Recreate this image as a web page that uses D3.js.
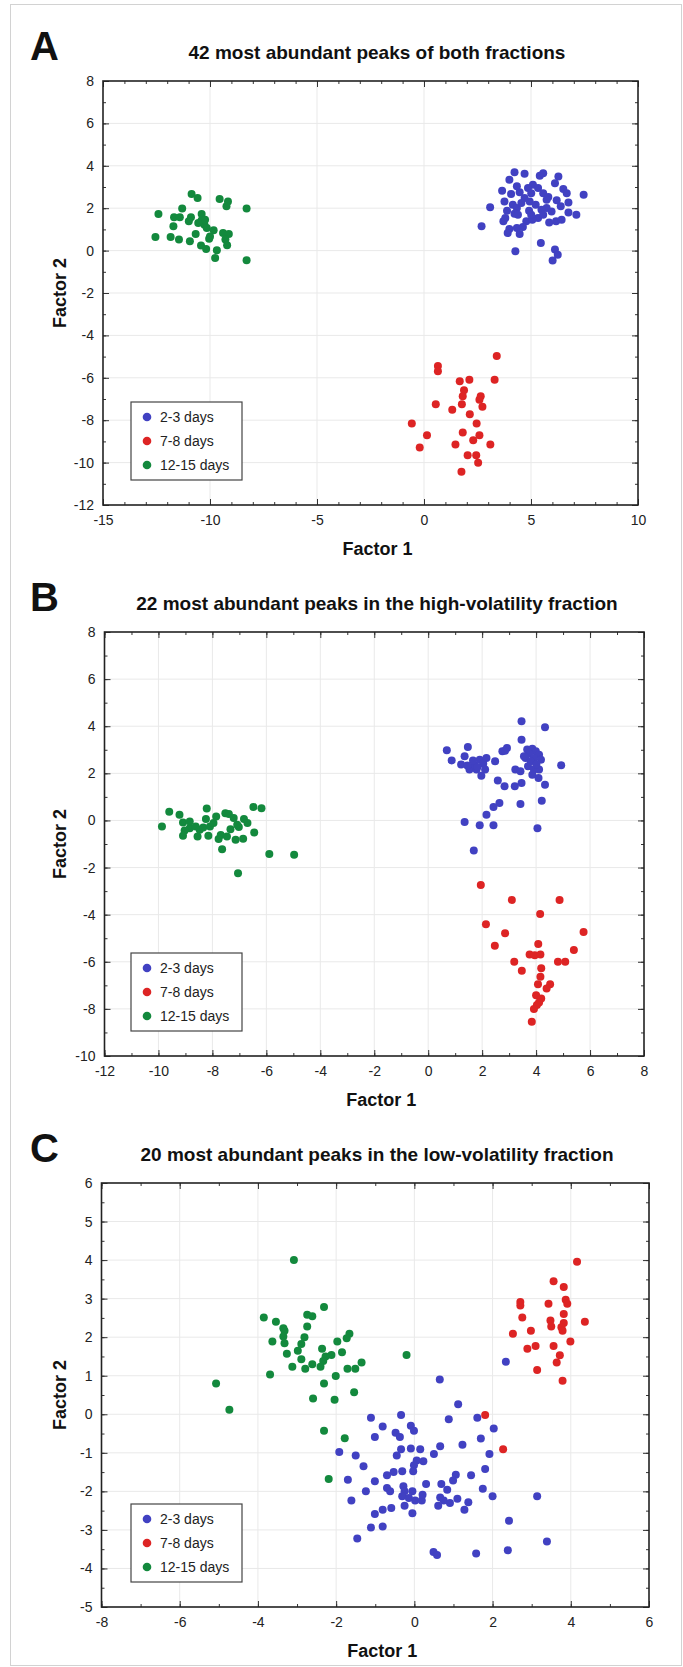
<!DOCTYPE html>
<html>
<head>
<meta charset="utf-8">
<script src="https://cdn.jsdelivr.net/npm/d3@7"></script>
<style>
  body { margin: 0; background: #fff; }
  svg { display: block; font-family: "Liberation Sans", Arial, sans-serif; }
  .tick text { fill: #222; font-size: 14px; }
</style>
</head>
<body>
<div id="chart"></div>
<script>
// series labels + colours
var groups = ["2-3 days", "7-8 days", "12-15 days"];
var colors = ["#4141c2", "#dd2424", "#13893d"];

// panel A: 42 most abundant peaks of both fractions
var aBlue = [[4.23,3.69],[4.70,3.62],[5.41,3.53],[5.57,3.65],[6.28,3.50],[3.99,3.34],[6.12,3.18],[5.09,3.11],
  [5.33,2.95],[4.86,2.95],[6.51,2.90],[3.65,2.82],[4.47,2.75],[6.67,2.71],[7.46,2.64],[4.07,2.67],[5.57,2.71],
  [5.81,2.53],[4.70,2.48],[3.76,2.32],[6.20,2.37],[6.75,2.27],[4.94,2.32],[5.22,2.16],[4.15,2.16],[3.09,2.05],
  [4.34,2.01],[5.73,2.01],[5.49,1.93],[4.91,1.88],[3.88,1.88],[4.23,1.74],[6.75,1.80],[7.12,1.69],[5.96,1.85],
  [5.33,1.54],[4.78,1.38],[3.71,1.38],[5.85,1.33],[6.17,1.38],[2.69,1.15],[3.99,1.02],[4.34,1.07],[4.62,1.11],
  [3.91,0.83],[4.47,0.78],[5.46,0.36],[4.27,-0.03],[6.12,0.05],[6.25,-0.19],[6.01,-0.47],[4.39,1.69],[5.01,2.71],
  [5.73,2.40],[4.55,2.24],[6.39,2.09],[3.80,1.54],[5.06,1.46],[5.57,1.69],[4.34,3.03],[5.01,1.69],[6.43,1.46]];
var aRed = [[3.40,-4.97],[0.65,-5.44],[0.65,-5.69],[1.67,-6.16],[2.12,-6.09],[3.30,-6.09],[1.87,-6.59],[1.81,-6.87],
  [2.65,-6.87],[2.59,-7.03],[1.77,-7.25],[0.55,-7.25],[1.32,-7.51],[2.73,-7.37],[2.14,-7.72],[-0.57,-8.16],
  [2.46,-8.16],[1.81,-8.58],[0.14,-8.71],[2.59,-8.71],[2.30,-8.94],[-0.20,-9.29],[1.47,-9.15],[3.10,-9.15],
  [2.04,-9.65],[2.44,-9.65],[2.53,-10.01],[1.75,-10.43]];
var aGreen = [[-10.86,2.67],[-10.58,2.48],[-9.55,2.43],[-9.16,2.32],[-9.23,2.09],[-8.29,1.98],[-11.30,1.98],
  [-12.41,1.73],[-11.68,1.57],[-11.41,1.57],[-10.89,1.57],[-10.39,1.73],[-10.99,1.38],[-10.39,1.43],[-10.26,1.22],
  [-10.15,1.07],[-11.71,1.15],[-9.83,0.96],[-12.55,0.64],[-11.84,0.64],[-11.45,0.52],[-10.67,0.78],[-10.94,0.44],
  [-10.04,0.56],[-9.39,0.83],[-9.12,0.78],[-9.28,0.52],[-9.20,0.25],[-10.42,0.24],[-10.18,0.08],[-9.68,0.02],
  [-9.76,-0.35],[-8.29,-0.45],[-10.00,0.67],[-10.55,1.30],[-10.23,1.46]];

// panel B: 22 most abundant peaks in the high-volatility fraction
var bBlue = [[3.46,4.21],[4.33,3.96],[3.46,3.43],[0.69,2.98],[1.47,3.12],[0.87,2.55],[1.35,2.72],[1.22,2.37],
  [1.53,2.16],[1.72,2.33],[1.91,2.58],[2.16,2.65],[1.97,1.90],[1.79,2.16],[2.48,2.51],[2.04,2.41],[1.66,2.54],
  [2.75,2.94],[2.92,3.08],[2.85,2.96],[2.58,1.70],[2.83,1.45],[3.21,1.45],[3.23,2.16],[3.42,2.09],[3.46,1.59],
  [3.67,3.01],[3.86,3.04],[3.99,2.94],[3.74,2.84],[4.11,2.79],[3.61,2.65],[3.92,2.65],[3.55,2.72],[4.18,2.58],
  [3.70,2.30],[3.92,2.16],[3.86,1.94],[4.11,2.16],[4.09,1.80],[4.33,1.52],[4.93,2.34],[2.64,0.74],[2.42,0.57],
  [2.16,0.24],[3.42,0.70],[4.21,0.84],[1.35,-0.07],[1.91,-0.20],[2.42,-0.20],[4.05,-0.33],[1.69,-1.28],
  [1.82,2.27],[2.11,2.16],[3.80,2.51],[4.01,2.37],[1.45,2.33]];
var bRed = [[1.95,-2.74],[3.10,-3.38],[4.87,-3.38],[4.15,-3.97],[2.14,-4.41],[2.85,-4.79],[5.76,-4.74],[2.47,-5.32],
  [4.08,-5.25],[5.40,-5.50],[3.76,-5.69],[3.95,-5.72],[4.16,-5.69],[3.19,-6.00],[4.19,-6.28],[4.81,-6.00],
  [5.08,-6.00],[3.47,-6.38],[4.16,-6.64],[4.07,-6.95],[4.52,-6.95],[4.39,-7.13],[4.00,-7.42],[4.19,-7.56],
  [4.03,-7.84],[3.92,-8.01],[3.84,-8.55],[4.11,-7.73]];
var bGreen = [[-9.87,-0.26],[-9.60,0.37],[-9.22,0.24],[-9.09,-0.09],[-8.21,0.51],[-8.24,0.06],[-7.86,0.17],
  [-7.52,0.31],[-7.39,0.27],[-7.21,0.10],[-6.83,0.06],[-6.70,-0.11],[-6.48,0.57],[-6.18,0.52],[-8.84,-0.33],
  [-9.03,-0.43],[-8.62,-0.26],[-8.47,-0.40],[-8.34,-0.30],[-8.09,-0.26],[-9.09,-0.65],[-8.55,-0.68],[-8.15,-0.65],
  [-7.77,-0.79],[-7.69,-0.62],[-7.46,-0.68],[-7.14,-0.82],[-6.86,-0.78],[-7.33,-0.37],[-7.02,-0.28],[-6.45,-0.51],
  [-7.64,-1.22],[-5.89,-1.42],[-4.97,-1.46],[-8.84,-0.04],[-7.96,-0.11],[-7.08,-0.18],[-7.05,-2.24]];

// panel C: 20 most abundant peaks in the low-volatility fraction
var cBlue = [[2.34,1.36],[0.65,0.90],[-1.11,-0.09],[-0.34,-0.02],[1.12,0.26],[0.88,-0.13],[1.61,-0.09],[2.03,-0.37],
  [-0.81,-0.32],[-0.48,-0.48],[-0.37,-0.59],[-0.09,-0.30],[-0.01,-0.43],[-1.01,-0.59],[1.70,-0.63],[-1.92,-0.98],
  [-1.50,-1.07],[-0.34,-0.91],[-0.09,-0.89],[0.15,-0.91],[-0.45,-1.07],[0.50,-1.03],[0.66,-0.83],[1.23,-0.79],
  [1.92,-1.03],[0.06,-1.20],[0.23,-1.22],[-0.01,-1.32],[-1.30,-1.35],[-0.03,-1.48],[-0.31,-1.48],[-0.53,-1.50],
  [-0.70,-1.58],[1.81,-1.42],[1.06,-1.57],[1.45,-1.58],[-1.70,-1.70],[-1.01,-1.74],[0.99,-1.72],[0.69,-1.81],
  [0.30,-1.81],[-0.28,-1.87],[-0.70,-1.91],[-0.62,-2.00],[-0.25,-2.00],[-0.05,-2.00],[1.75,-1.93],[0.84,-1.96],
  [-1.24,-2.00],[-1.61,-2.24],[-0.31,-2.13],[-0.14,-2.17],[0.02,-2.24],[0.19,-2.24],[0.21,-2.09],[0.66,-2.16],
  [0.75,-2.24],[0.61,-2.37],[0.91,-2.30],[1.10,-2.19],[1.38,-2.28],[2.00,-2.13],[3.14,-2.13],[-0.25,-2.37],
  [-0.59,-2.43],[-0.81,-2.48],[-1.01,-2.59],[-0.05,-2.57],[1.28,-2.48],[2.42,-2.76],[-1.11,-2.94],[-0.81,-2.91],
  [-1.46,-3.22],[3.39,-3.30],[0.49,-3.57],[0.58,-3.65],[1.58,-3.61],[2.39,-3.53]];
var cRed = [[4.16,3.96],[3.56,3.45],[3.82,3.30],[2.71,2.91],[2.71,2.82],[3.43,2.87],[3.87,2.97],[3.91,2.87],
  [2.76,2.51],[3.82,2.60],[4.36,2.40],[3.48,2.43],[3.50,2.28],[3.82,2.37],[3.76,2.26],[3.79,2.17],[2.98,2.17],
  [2.52,2.09],[3.99,1.89],[3.10,1.77],[3.56,1.77],[2.89,1.70],[3.72,1.53],[3.64,1.34],[3.14,1.15],[3.79,0.87],
  [1.81,-0.02],[2.27,-0.91]];
var cGreen = [[-3.08,4.00],[-2.31,2.78],[-3.85,2.51],[-3.54,2.40],[-2.74,2.58],[-2.61,2.54],[-3.35,2.23],[-3.32,2.17],
  [-2.74,2.28],[-3.35,2.02],[-3.63,1.89],[-3.32,1.84],[-2.81,2.00],[-2.89,1.82],[-1.66,2.09],[-1.73,1.97],
  [-1.97,1.89],[-3.26,1.57],[-2.98,1.65],[-2.36,1.70],[-2.12,1.54],[-1.85,1.61],[-2.89,1.43],[-2.27,1.50],
  [-2.33,1.38],[-2.61,1.30],[-2.79,1.18],[-2.40,1.23],[-3.12,1.23],[-1.71,1.18],[-1.51,1.18],[-1.35,1.34],
  [-0.20,1.54],[-3.69,1.03],[-2.01,0.99],[-5.07,0.80],[-2.31,0.80],[-1.54,0.57],[-2.59,0.41],[-2.04,0.38],
  [-4.73,0.12],[-2.31,-0.43],[-1.78,-0.62],[-2.19,-1.68]];

// tick labels
var aXTicks = [-15, -10, -5, 0, 5, 10];
var aYTicks = [-12, -10, -8, -6, -4, -2, 0, 2, 4, 6, 8];
var bXTicks = [-12, -10, -8, -6, -4, -2, 0, 2, 4, 6, 8];
var bYTicks = [-10, -8, -6, -4, -2, 0, 2, 4, 6, 8];
var cXTicks = [-8, -6, -4, -2, 0, 2, 4, 6];
var cYTicks = [-5, -4, -3, -2, -1, 0, 1, 2, 3, 4, 5, 6];

var panels = [
  { letter: "A", title: "42 most abundant peaks of both fractions", top: 81, left: 103, right: 638,
    xDom: [-15, 10], yDom: [-12, 8], xTicks: aXTicks, yTicks: aYTicks, xMinor: 1, yMinor: 1,
    series: [aBlue, aRed, aGreen] },
  { letter: "B", title: "22 most abundant peaks in the high-volatility fraction", top: 632, left: 104.5, right: 644,
    xDom: [-12, 8], yDom: [-10, 8], xTicks: bXTicks, yTicks: bYTicks, xMinor: 1, yMinor: 1,
    series: [bBlue, bRed, bGreen] },
  { letter: "C", title: "20 most abundant peaks in the low-volatility fraction", top: 1183, left: 101.5, right: 649,
    xDom: [-8, 6], yDom: [-5, 6], xTicks: cXTicks, yTicks: cYTicks, xMinor: 1, yMinor: 0.5,
    series: [cBlue, cRed, cGreen] }
];

var W = 683, H = 1667, plotH = 424;

var svg = d3.select("#chart").append("svg")
  .attr("width", W).attr("height", H);

// outer grey frame
svg.append("rect")
  .attr("x", 10.5).attr("y", 4.5)
  .attr("width", W - 12).attr("height", H - 6)
  .attr("fill", "none").attr("stroke", "#d2d2d2");

function range(a, b, step) {
  var out = [];
  for (var v = a; v <= b + 1e-9; v += step) out.push(+v.toFixed(4));
  return out;
}

panels.forEach(function(p) {
  var x = d3.scaleLinear().domain(p.xDom).range([p.left, p.right]);
  var y = d3.scaleLinear().domain(p.yDom).range([p.top + plotH, p.top]);
  var g = svg.append("g");
  var bottom = p.top + plotH;

  g.append("text")
    .attr("x", 30).attr("y", p.top - 21)
    .attr("font-size", 40).attr("font-weight", "bold").attr("fill", "#111")
    .text(p.letter);

  g.append("text")
    .attr("x", 377).attr("y", p.top - 22)
    .attr("text-anchor", "middle")
    .attr("font-size", 19).attr("font-weight", "bold").attr("fill", "#111")
    .text(p.title);

  // grid
  g.append("g").selectAll("line")
    .data(p.xTicks.slice(1, -1))
    .enter().append("line")
      .attr("x1", function(d) { return x(d); }).attr("x2", function(d) { return x(d); })
      .attr("y1", p.top).attr("y2", bottom)
      .attr("stroke", "#e9e9e9");
  g.append("g").selectAll("line")
    .data(p.yTicks.slice(1, -1))
    .enter().append("line")
      .attr("y1", function(d) { return y(d); }).attr("y2", function(d) { return y(d); })
      .attr("x1", p.left).attr("x2", p.right)
      .attr("stroke", "#e9e9e9");

  // minor ticks, all four sides, pointing inwards
  var xm = range(p.xDom[0], p.xDom[1], p.xMinor);
  var ym = range(p.yDom[0], p.yDom[1], p.yMinor);
  [["bottom", bottom], ["top", p.top]].forEach(function(s) {
    var ax = (s[0] == "bottom" ? d3.axisBottom(x) : d3.axisTop(x))
      .tickValues(xm).tickSize(-3).tickFormat("");
    g.append("g").attr("transform", "translate(0," + s[1] + ")").call(ax)
      .call(function(sel) { sel.select(".domain").remove(); });
  });
  [["left", p.left], ["right", p.right]].forEach(function(s) {
    var ax = (s[0] == "left" ? d3.axisLeft(y) : d3.axisRight(y))
      .tickValues(ym).tickSize(-3).tickFormat("");
    g.append("g").attr("transform", "translate(" + s[1] + ",0)").call(ax)
      .call(function(sel) { sel.select(".domain").remove(); });
  });

  // major ticks + labels
  g.append("g").attr("transform", "translate(0," + bottom + ")")
    .call(d3.axisBottom(x).tickValues(p.xTicks).tickSize(-6).tickPadding(10))
    .call(function(sel) { sel.select(".domain").remove(); });
  g.append("g").attr("transform", "translate(0," + p.top + ")")
    .call(d3.axisTop(x).tickValues(p.xTicks).tickSize(-6).tickFormat(""))
    .call(function(sel) { sel.select(".domain").remove(); });
  g.append("g").attr("transform", "translate(" + p.left + ",0)")
    .call(d3.axisLeft(y).tickValues(p.yTicks).tickSize(-6).tickPadding(9))
    .call(function(sel) { sel.select(".domain").remove(); });
  g.append("g").attr("transform", "translate(" + p.right + ",0)")
    .call(d3.axisRight(y).tickValues(p.yTicks).tickSize(-6).tickFormat(""))
    .call(function(sel) { sel.select(".domain").remove(); });

  g.selectAll(".tick line").attr("stroke", "#333");
  g.selectAll(".tick text").text(function() {
    return d3.select(this).text().replace("\u2212", "-");
  });

  // frame
  g.append("rect")
    .attr("x", p.left).attr("y", p.top)
    .attr("width", p.right - p.left).attr("height", plotH)
    .attr("fill", "none").attr("stroke", "#222").attr("stroke-width", 1.6);

  // axis titles
  g.append("text")
    .attr("x", (p.left + p.right) / 2 + 7).attr("y", bottom + 50)
    .attr("text-anchor", "middle")
    .attr("font-size", 18).attr("font-weight", "bold").attr("fill", "#111")
    .text("Factor 1");
  g.append("text")
    .attr("transform", "translate(66," + (p.top + plotH / 2) + ") rotate(-90)")
    .attr("text-anchor", "middle")
    .attr("font-size", 18).attr("font-weight", "bold").attr("fill", "#111")
    .text("Factor 2");

  // points
  p.series.forEach(function(pts, i) {
    g.append("g").selectAll("circle")
      .data(pts)
      .enter().append("circle")
        .attr("cx", function(d) { return x(d[0]); })
        .attr("cy", function(d) { return y(d[1]); })
        .attr("r", 4)
        .attr("fill", colors[i]);
  });

  // legend
  var ly = bottom - 103;
  var lg = g.append("g").attr("transform", "translate(131," + ly + ")");
  lg.append("rect")
    .attr("width", 111).attr("height", 78)
    .attr("fill", "#fff").attr("stroke", "#444").attr("stroke-width", 1.2);
  groups.forEach(function(name, i) {
    lg.append("circle")
      .attr("cx", 16).attr("cy", 15 + i * 24).attr("r", 4.3)
      .attr("fill", colors[i]);
    lg.append("text")
      .attr("x", 29).attr("y", 20 + i * 24)
      .attr("font-size", 14).attr("fill", "#222")
      .text(name);
  });
});
</script>
</body>
</html>
